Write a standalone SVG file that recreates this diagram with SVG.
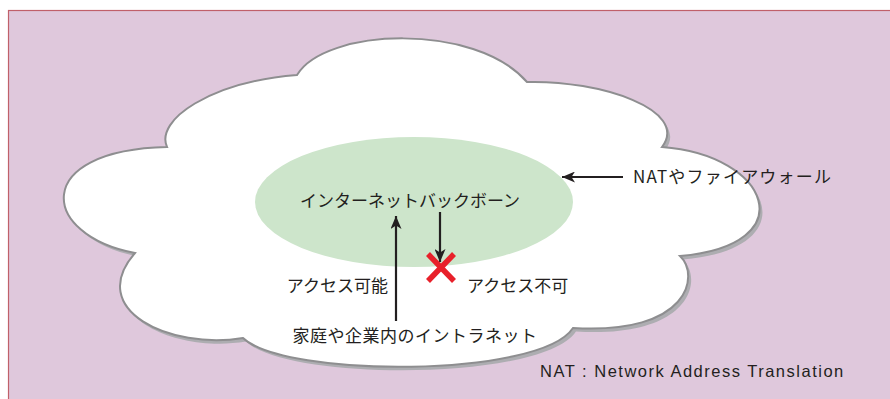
<svg xmlns="http://www.w3.org/2000/svg" width="890" height="399" viewBox="0 0 890 399">
<defs>
<style>
.jp{font-family:"Noto Sans CJK JP","Noto Sans",sans-serif;font-size:17px;fill:#231f20;}
.en{font-family:"Liberation Sans",Arial,sans-serif;font-size:16.5px;fill:#231f20;letter-spacing:1.5px;}
.arrow{stroke:#231f20;stroke-width:2.2;fill:none;}
</style>
<marker id="ah" markerUnits="userSpaceOnUse" markerWidth="14" markerHeight="11" refX="13" refY="5.5" orient="auto">
<path d="M0,0 L13,5.5 L0,11 L3.5,5.5 z" fill="#231f20"/>
</marker>
<path id="cloudShape" d="M167,147 C155,120 210,82 297,75 C325,28 475,22 527,82 C600,80 690,110 662,147 C770,155 805,245 680,256 C700,275 690,335 573,328 C540,378 285,378 243,338 C170,350 85,310 135,253 C40,235 30,150 167,147 Z"/>
</defs>
<rect id="background" x="8.5" y="10.5" width="890" height="400" fill="#dfc8dc" stroke="#c0606a" stroke-width="1.2"/>
<g id="cloud">
<use href="#cloudShape" transform="translate(3,3.5)" fill="#adadb1"/>
<use href="#cloudShape" fill="#ffffff" stroke="#8e8e90" stroke-width="2"/>
</g>
<g id="backbone">
<ellipse cx="414" cy="202" rx="159" ry="65" fill="#cde5cb"/>
<text class="jp" x="410" y="207" text-anchor="middle">インターネットバックボーン</text>
</g>
<g id="connectors">
<line class="arrow" x1="396" y1="321" x2="396" y2="216" marker-end="url(#ah)"/>
<line class="arrow" x1="440" y1="212" x2="440" y2="262" marker-end="url(#ah)"/>
<line class="arrow" x1="623" y1="177" x2="562" y2="177" marker-end="url(#ah)"/>
</g>
<g id="blocked">
<path d="M428,254 L454,281 M454,254 L428,281" stroke="#e8202a" stroke-width="5.5" fill="none"/>
</g>
<g id="label-access-ok">
<text class="jp" x="388" y="292" text-anchor="end">アクセス可能</text>
</g>
<g id="label-access-ng">
<text class="jp" x="467" y="292">アクセス不可</text>
</g>
<g id="intranet">
<text class="jp" x="415" y="342" text-anchor="middle" letter-spacing="0.5">家庭や企業内のイントラネット</text>
</g>
<g id="nat">
<text class="jp" x="633" y="183" letter-spacing="1.2">NATやファイアウォール</text>
</g>
<g id="footnote">
<text class="en" x="540" y="377">NAT : Network Address Translation</text>
</g>
</svg>
